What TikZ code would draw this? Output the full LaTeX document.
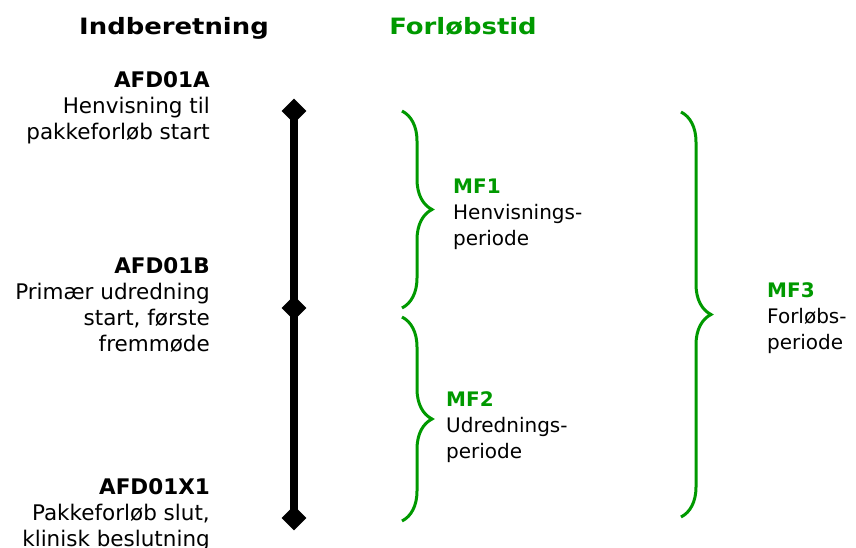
\documentclass[tikz,border=0pt]{standalone}
\usepackage{fontspec}
\setmainfont{DejaVu Sans}
\newfontfamily\headfont[FakeStretch=1.15]{DejaVu Sans}
\usetikzlibrary{shapes.geometric, positioning, decorations.pathreplacing}
\definecolor{mfgreen}{RGB}{0,153,0}
\tikzstyle{heading} = [anchor=base, inner sep=0pt, font=\headfont\fontsize{22.5}{26}\selectfont\bfseries]
\tikzstyle{report} = [anchor=base east, align=right, inner sep=0pt, font=\fontsize{21.5}{26}\selectfont]
\tikzstyle{period} = [anchor=base west, align=left, inner sep=0pt, font=\fontsize{20}{26}\selectfont]
\tikzstyle{event} = [diamond, fill=black, minimum size=25pt, inner sep=0pt]
\tikzstyle{mfbrace} = [draw=mfgreen, line width=3pt, decorate, decoration={brace, amplitude=30pt}]

\begin{document}
\begin{tikzpicture}[x=1pt, y=-1pt]
		\useasboundingbox (0,0) rectangle (856,548);
		\node (Indberetning)[heading] at (174,35) {Indberetning};
		\node (Forloebstid)[heading, text=mfgreen] at (463,35) {Forløbstid};
		% indberetninger
		\node (AFD01A)[report] at (210,140) {\textbf{AFD01A}\\Henvisning til\\pakkeforløb start};
		\node (AFD01B)[report] at (210,351) {\textbf{AFD01B}\\Primær udredning\\start, første\\fremmøde};
		\node (AFD01X1)[report] at (210,546) {\textbf{AFD01X1}\\Pakkeforløb slut,\\klinisk beslutning};
		\node (Start)[event] at (294,111) {};
		\node (Mid)[event] at (294,308) {};
		\node (End)[event] at (294,518) {};
		\draw [line width=8pt] (Start.center) -- (End.center);
		% forløbstider
		\coordinate (MF1 top) at (402,111);
		\coordinate (MF1 bottom) at (402,308);
		\coordinate (MF2 top) at (402,317);
		\coordinate (MF2 bottom) at (402,521);
		\coordinate (MF3 top) at (681,112);
		\coordinate (MF3 bottom) at (681,517);
		\draw [mfbrace] (MF1 top) -- (MF1 bottom);
		\draw [mfbrace] (MF2 top) -- (MF2 bottom);
		\draw [mfbrace] (MF3 top) -- (MF3 bottom);
		\node (MF1)[period] at (453,245) {\textcolor{mfgreen}{\textbf{MF1}}\\Henvisnings-\\periode};
		\node (MF2)[period] at (446,458) {\textcolor{mfgreen}{\textbf{MF2}}\\Udrednings-\\periode};
		\node (MF3)[period] at (767,349) {\textcolor{mfgreen}{\textbf{MF3}}\\Forløbs-\\periode};
	\end{tikzpicture}
\end{document}
